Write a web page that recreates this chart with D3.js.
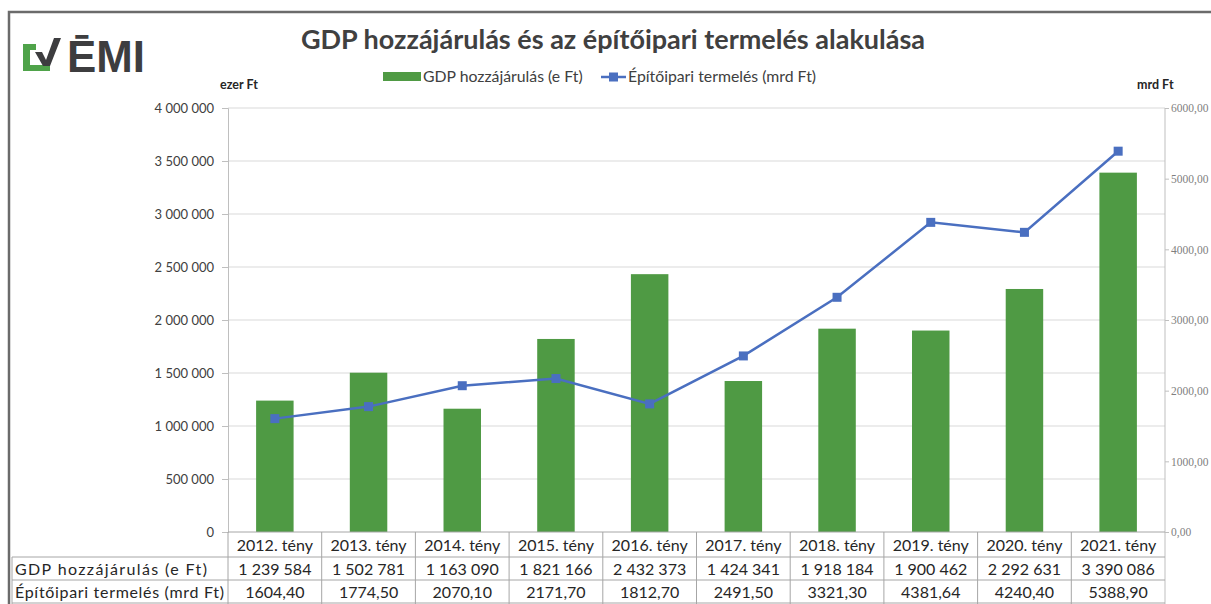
<!DOCTYPE html>
<html>
<head>
<meta charset="utf-8">
<script src="https://cdn.jsdelivr.net/npm/d3@7"></script>
<style>
  body { margin: 0; background: #fff; }
  svg { display: block; font-family: Lato, "Open Sans", sans-serif; }
</style>
</head>
<body>
<div id="chart"></div>
<script>
// data
var years = ['2012. tény', '2013. tény', '2014. tény', '2015. tény', '2016. tény',
  '2017. tény', '2018. tény', '2019. tény', '2020. tény', '2021. tény'];
var gdpValues = [1239584, 1502781, 1163090, 1821166, 2432373, 1424341, 1918184, 1900462, 2292631, 3390086];
var buildValues = [1604.40, 1774.50, 2070.10, 2171.70, 1812.70, 2491.50, 3321.30, 4381.64, 4240.40, 5388.90];
var leftTicks = [0, 500000, 1000000, 1500000, 2000000, 2500000, 3000000, 3500000, 4000000];
var rightTicks = [0, 1000, 2000, 3000, 4000, 5000, 6000];
var gdpLabel = 'GDP hozzájárulás (e Ft)';
var buildLabel = 'Építőipari termelés (mrd Ft)';

var width = 1211, height = 604;
var plotLeft = 228, plotRight = 1165, plotTop = 108, plotBottom = 532;
var green = '#4f9a44', blue = '#4a6fc0', textCol = '#404040';

var loc = d3.formatLocale({ decimal: ',', thousands: ' ', grouping: [3], currency: ['', ''] });
var fmtInt = loc.format(',d');
var fmtDec = loc.format('.2f');

var svg = d3.select('#chart').append('svg')
  .attr('width', width)
  .attr('height', height);

// outer frame
svg.append('path')
  .attr('d', 'M9,' + height + 'V12H' + width)
  .style('fill', 'none')
  .style('stroke', '#6b6b6b')
  .style('stroke-width', 2.5);

// logo
var logo = svg.append('g').attr('class', 'logo');
logo.append('path')
  .attr('d', 'M23,44H36V50H30V65H50V71H23Z')
  .style('fill', '#4fa34a');
logo.append('path')
  .attr('d', 'M35,52L42,52L46,60L54,38L61,38L50,66L43,66Z')
  .style('fill', '#3d3d3f');
logo.append('text')
  .attr('x', 67)
  .attr('y', 72)
  .attr('textLength', 78)
  .attr('lengthAdjust', 'spacingAndGlyphs')
  .style('font-family', '"Liberation Sans", sans-serif')
  .style('font-weight', 'bold')
  .style('font-size', '44px')
  .style('fill', '#3d3d3f')
  .text('ĒMI');

// title
svg.append('text')
  .attr('x', 613)
  .attr('y', 49)
  .attr('text-anchor', 'middle')
  .style('font-weight', 'bold')
  .style('font-size', '27px')
  .style('fill', textCol)
  .text('GDP hozzájárulás és az építőipari termelés alakulása');

// unit labels
svg.append('text').attr('x', 220).attr('y', 89)
  .style('font-weight', 'bold').style('font-size', '12.5px').style('fill', '#262626')
  .text('ezer Ft');
svg.append('text').attr('x', 1137).attr('y', 89)
  .style('font-weight', 'bold').style('font-size', '12.5px').style('fill', '#262626')
  .text('mrd Ft');

// scales
var x = d3.scaleBand()
  .domain(years)
  .range([plotLeft, plotRight])
  .paddingInner(0.6)
  .paddingOuter(0.3);
var yL = d3.scaleLinear().domain([0, 4000000]).range([plotBottom, plotTop]);
var yR = d3.scaleLinear().domain([0, 6000]).range([plotBottom, plotTop]);

// gridlines
svg.append('g').attr('class', 'grid')
  .selectAll('line')
  .data(leftTicks.slice(1))
  .enter()
  .append('line')
  .attr('x1', plotLeft).attr('x2', plotRight)
  .attr('y1', function (d) { return yL(d); })
  .attr('y2', function (d) { return yL(d); })
  .style('stroke', '#d9d9d9')
  .style('stroke-width', 1);

// left axis
var axL = svg.append('g')
  .attr('transform', 'translate(' + plotLeft + ',0)')
  .call(d3.axisLeft(yL).tickValues(leftTicks).tickSize(6).tickPadding(8)
    .tickFormat(function (d) { return fmtInt(d); }));
axL.select('.domain').style('stroke', '#bfbfbf');
axL.selectAll('.tick line').style('stroke', '#bfbfbf');
axL.selectAll('text')
  .style('font-family', 'Lato, sans-serif')
  .style('font-size', '13px')
  .style('fill', textCol);

// right axis
var axR = svg.append('g')
  .attr('transform', 'translate(' + plotRight + ',0)')
  .call(d3.axisRight(yR).tickValues(rightTicks).tickSize(4).tickPadding(2)
    .tickFormat(function (d) { return fmtDec(d); }));
axR.select('.domain').remove();
axR.selectAll('.tick line').style('stroke', '#bfbfbf');
axR.selectAll('text')
  .style('font-family', '"Liberation Serif", serif')
  .style('font-size', '11.5px')
  .style('fill', '#7f7f7f');
svg.append('line')
  .attr('x1', plotRight).attr('x2', plotRight)
  .attr('y1', plotTop).attr('y2', height)
  .style('stroke', '#bfbfbf');

// bars
svg.append('g').attr('class', 'bars')
  .selectAll('rect')
  .data(gdpValues)
  .enter()
  .append('rect')
  .attr('x', function (d, i) { return x(years[i]); })
  .attr('width', x.bandwidth())
  .attr('y', function (d) { return yL(d); })
  .attr('height', function (d) { return plotBottom - yL(d); })
  .style('fill', green);

// line
var line = d3.line()
  .x(function (d, i) { return x(years[i]) + x.bandwidth() / 2; })
  .y(function (d) { return yR(d); });
svg.append('path')
  .datum(buildValues)
  .attr('d', line)
  .style('fill', 'none')
  .style('stroke', blue)
  .style('stroke-width', 2.5);
svg.append('g').attr('class', 'markers')
  .selectAll('rect')
  .data(buildValues)
  .enter()
  .append('rect')
  .attr('x', function (d, i) { return x(years[i]) + x.bandwidth() / 2 - 4.5; })
  .attr('y', function (d) { return yR(d) - 4.5; })
  .attr('width', 9).attr('height', 9)
  .style('fill', blue);

// legend
var legend = svg.append('g').attr('class', 'legend');
legend.append('rect')
  .attr('x', 383).attr('y', 72).attr('width', 38).attr('height', 9)
  .style('fill', green);
legend.append('text')
  .attr('x', 423).attr('y', 82)
  .style('font-size', '15.8px').style('fill', textCol)
  .text(gdpLabel);
legend.append('line')
  .attr('x1', 601).attr('x2', 626).attr('y1', 77).attr('y2', 77)
  .style('stroke', blue).style('stroke-width', 2.5);
legend.append('rect')
  .attr('x', 609).attr('y', 72.5).attr('width', 9).attr('height', 9)
  .style('fill', blue);
legend.append('text')
  .attr('x', 628).attr('y', 82)
  .style('font-size', '15.8px').style('fill', textCol)
  .text(buildLabel);

// data table
var table = svg.append('g').attr('class', 'table');
var gridStroke = '#a6a6a6';
table.append('line').attr('x1', plotLeft).attr('x2', plotRight)
  .attr('y1', plotBottom).attr('y2', plotBottom)
  .style('stroke', gridStroke);
[557, 580, 603].forEach(function (yy) {
  table.append('line').attr('x1', 12).attr('x2', plotRight).attr('y1', yy).attr('y2', yy)
    .style('stroke', gridStroke);
});
table.append('line').attr('x1', 12).attr('x2', 12).attr('y1', 557).attr('y2', height)
  .style('stroke', gridStroke);
// vertical rules at column edges
table.selectAll('line.col')
  .data(years)
  .enter()
  .append('line')
  .attr('class', 'col')
  .attr('x1', function (d) { return x(d) - x.bandwidth() * 0.75; })
  .attr('x2', function (d) { return x(d) - x.bandwidth() * 0.75; })
  .attr('y1', plotBottom).attr('y2', height)
  .style('stroke', gridStroke);

function cellX(d) { return x(d) + x.bandwidth() / 2; }
var cellStyle = function (sel) {
  sel.attr('text-anchor', 'middle').style('font-size', '16px').style('fill', '#262626');
};
table.selectAll('text.head')
  .data(years).enter().append('text')
  .attr('class', 'head')
  .attr('x', cellX).attr('y', 551)
  .call(cellStyle)
  .text(function (d) { return d; });
table.selectAll('text.gdp')
  .data(gdpValues).enter().append('text')
  .attr('class', 'gdp')
  .attr('x', function (d, i) { return cellX(years[i]); }).attr('y', 575)
  .call(cellStyle)
  .text(function (d) { return fmtInt(d); });
table.selectAll('text.build')
  .data(buildValues).enter().append('text')
  .attr('class', 'build')
  .attr('x', function (d, i) { return cellX(years[i]); }).attr('y', 598)
  .call(cellStyle)
  .text(function (d) { return fmtDec(d); });
table.append('text').attr('x', 15).attr('y', 575)
  .attr('textLength', 192).attr('lengthAdjust', 'spacing')
  .style('font-size', '16px').style('fill', '#262626').text(gdpLabel);
table.append('text').attr('x', 15).attr('y', 598)
  .attr('textLength', 209).attr('lengthAdjust', 'spacing')
  .style('font-size', '16px').style('fill', '#262626').text(buildLabel);
</script>
</body>
</html>
